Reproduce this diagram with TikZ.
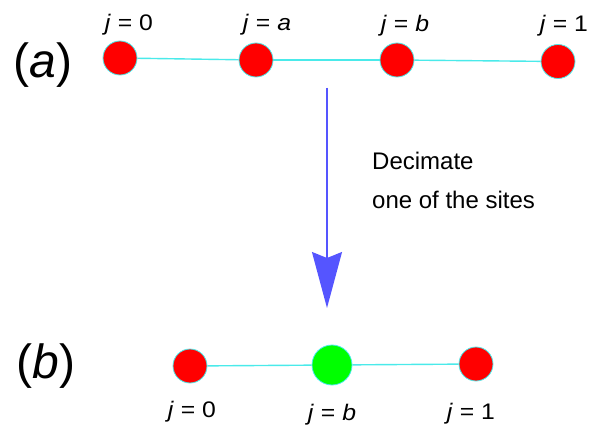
\documentclass[tikz,border=0pt]{standalone}
\usepackage{fontspec}
\setmainfont{Liberation Sans}
\newfontfamily\widesans[FakeStretch=1.1]{Liberation Sans}
\usetikzlibrary{arrows.meta}
\definecolor{siteline}{HTML}{4AEAEA}
\definecolor{arrowblue}{HTML}{5555FF}
\tikzset{
  site/.style={circle, draw=siteline, line width=0.8pt, fill=red, minimum size=34pt, inner sep=0pt},
  bigsite/.style={site, fill=green, minimum size=40pt},
  bond/.style={draw=siteline, line width=1.4pt},
  jlabel/.style={anchor=base, font=\widesans\fontsize{22.5}{25}\selectfont, inner sep=0pt},
  panel/.style={font=\fontsize{48}{52}\selectfont, inner sep=0pt},
  note/.style={anchor=base west, font=\fontsize{24}{28}\selectfont, inner sep=0pt},
}
\begin{document}
\begin{tikzpicture}[x=1pt, y=-1pt]
\useasboundingbox (0,0) rectangle (590,428);
% panel (a)
\node[panel] (pa) at (43,65) {(\textit{a})};
\node[site] (a0) at (120,58) {};
\node[site] (aa) at (256,60) {};
\node[site] (ab) at (397,60) {};
\node[site] (a1) at (558,61.5) {};
\draw[bond] (a0) -- (aa);
\draw[bond] (aa) -- (ab);
\draw[bond] (ab) -- (a1);
\node[jlabel] (la0) at (129,31) {\textit{j} = 0};
\node[jlabel] (laa) at (267,31) {\textit{j} = \textit{a}};
\node[jlabel] (lab) at (405,32) {\textit{j} = \textit{b}};
\node[jlabel] (la1) at (564,32) {\textit{j} = 1};
% arrow
\coordinate (arrtop) at (327,88);
\coordinate (arrtip) at (327,308);
\draw[draw=arrowblue, fill=arrowblue, line width=1.5pt, -{Stealth[length=56pt, width=30pt, inset=6pt]}] (arrtop) -- (arrtip);
\node[note] (n1) at (372,170) {Decimate};
\node[note] (n2) at (372,208) {one of the sites};
% panel (b)
\node[panel] (pb) at (46,366) {(\textit{b})};
\node[site] (b0) at (190,366) {};
\node[bigsite] (bb) at (332,365) {};
\node[site] (b1) at (476,364) {};
\draw[bond] (b0) -- (bb);
\draw[bond] (bb) -- (b1);
\node[jlabel] (lb0) at (192,417) {\textit{j} = 0};
\node[jlabel] (lbb) at (332,420) {\textit{j} = \textit{b}};
\node[jlabel] (lb1) at (471,419) {\textit{j} = 1};
\end{tikzpicture}
\end{document}
